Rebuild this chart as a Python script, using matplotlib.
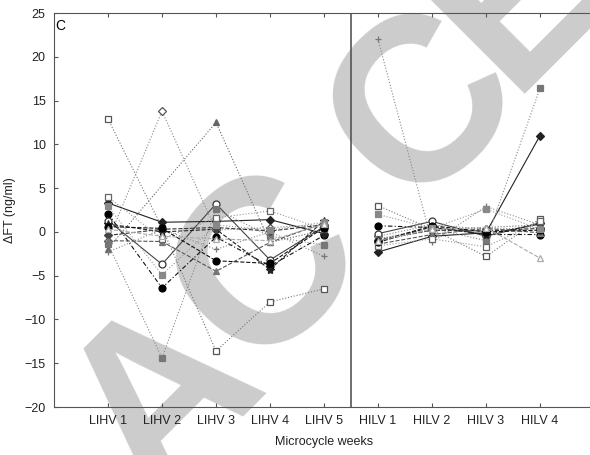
"""
Delta free testosterone per microcycle week (panel C), spaghetti plot.
"""
import numpy as np
import matplotlib
matplotlib.use('Agg')
import matplotlib.pyplot as plt

plt.rcParams['font.family'] = ['Liberation Sans', 'DejaVu Sans']

weeks_lihv = ['LIHV 1', 'LIHV 2', 'LIHV 3', 'LIHV 4', 'LIHV 5']
weeks_hilv = ['HILV 1', 'HILV 2', 'HILV 3', 'HILV 4']
nan = np.nan

# one row per subject: LIHV 1-5 values, then HILV 1-4 values (ng/ml)
lihv_values = [
    [12.9, 0.5, -13.6, -8.0, -6.5],
    [-1.0, 13.8, 0.2, 0.5, 0.8],
    [-1.9, nan, 12.5, -1.2, 0.2],
    [2.1, -6.4, -0.6, -3.9, -0.4],
    [1.3, -3.7, 3.2, -3.2, 0.6],
    [3.3, 1.1, 1.2, 1.4, -0.2],
    [-1.4, -14.4, 2.6, -0.5, -1.5],
    [-2.3, 0.3, -2.0, 0.0, -2.8],
    [0.9, 0.0, 0.3, -4.3, 1.3],
    [-0.4, 0.3, 0.5, 0.1, 0.8],
    [-1.0, -1.1, -4.5, -1.2, 1.0],
    [4.0, -0.8, 1.6, 2.4, 0.3],
    [0.6, 0.4, -3.3, -3.6, 0.5],
    [2.9, -4.9, 0.8, 0.2, 1.1],
    [0.3, -0.5, -0.8, -1.0, 0.9],
]
hilv_values = [
    [3.0, 0.3, -2.8, 1.5],
    [-0.5, 0.8, 0.3, 0.5],
    [-1.0, 0.2, 0.5, 0.8],
    [0.7, 0.5, -0.3, -0.3],
    [-0.2, 1.2, -0.5, 1.0],
    [-2.3, -0.5, -0.1, 11.0],
    [-0.8, 0.4, -1.0, 16.4],
    [22.0, -1.2, 2.9, 0.8],
    [-1.2, 0.6, -0.3, 0.9],
    [-0.9, 0.2, 0.1, 0.4],
    [-1.4, -0.3, 0.4, -0.1],
    [-1.6, -0.8, -1.7, 1.2],
    [-1.1, 0.7, 0.0, 0.2],
    [2.0, 0.4, 2.6, 0.3],
    [-1.0, 0.3, 0.5, -3.0],
]

# marker, face, edge, line style, line colour
styles = [
    ('s', 'white', '#555555', ':', '#777777'),
    ('D', 'white', '#555555', ':', '#888888'),
    ('^', '#666666', '#666666', ':', '#666666'),
    ('o', 'black', 'black', (0, (4, 2, 1, 2)), '#111111'),
    ('o', 'white', '#333333', '-', '#444444'),
    ('D', '#222222', '#222222', '-', '#222222'),
    ('s', '#777777', '#777777', ':', '#888888'),
    ('+', '#777777', '#777777', ':', '#888888'),
    ('*', '#222222', '#222222', '--', '#222222'),
    ('D', '#444444', '#444444', '--', '#333333'),
    ('^', '#777777', '#777777', '--', '#555555'),
    ('s', 'white', '#666666', ':', '#999999'),
    ('o', 'black', 'black', '--', '#111111'),
    ('s', '#888888', '#888888', ':', '#999999'),
    ('^', 'white', '#aaaaaa', '--', '#aaaaaa'),
]

W, H = 590, 455
fig = plt.figure(figsize=(W / 100, H / 100), dpi=100)

# ACCEPTED watermark behind the plot, one letter at a time (pixel centres)
wm_size = 168
wm_lift = 0.36 * wm_size * 100 / 72 * 0.707
wm_centres = [(150, 385), (253, 255), (410, 93), (505, -20),
              (645, -160), (785, -300), (925, -440), (1065, -580)]
for ch, (cx, cy) in zip('ACCEPTED', wm_centres):
    fig.text((cx + wm_lift) / W, 1 - (cy + wm_lift) / H, ch, rotation=45,
             rotation_mode='anchor', fontsize=wm_size, fontweight='bold',
             color='#cccccc', ha='center', va='baseline', zorder=-5)

ax = fig.add_axes([54 / W, 48 / H, 540 / W, 394 / H])
ax.patch.set_alpha(0)

x_lihv = np.arange(1, 6)
x_hilv = np.arange(6, 10)
for lv, hv, st in zip(lihv_values, hilv_values, styles):
    m, fc, ec, ls, lc = st
    ms = 4 if m == 'D' else 5
    if m == '*':
        ms = 6
    for xs, vals in ((x_lihv, lv), (x_hilv, hv)):
        vals = np.array(vals, dtype=float)
        ok = ~np.isnan(vals)
        ax.plot(xs[ok], vals[ok], linestyle=ls, color=lc, linewidth=0.8,
                marker=m, markersize=ms, markerfacecolor=fc,
                markeredgecolor=ec, markeredgewidth=0.9)

ax.axvline(5.5, color='#555555', linewidth=1.2)

ax.set_xlim(0, 10)
ax.set_ylim(-20, 25)
ax.set_xticks(range(1, 10))
ax.set_xticklabels(weeks_lihv + weeks_hilv)
ax.set_yticks(range(-20, 26, 5))
ax.tick_params(direction='in', top=True, length=3, color='#555555',
               labelsize=9, labelcolor='#222222', pad=6)
for sp in ax.spines.values():
    sp.set_color('#555555')
ax.spines['right'].set_visible(False)

ax.set_ylabel('ΔFT (ng/ml)', fontsize=9, color='#222222', labelpad=6)
ax.set_xlabel('Microcycle weeks', fontsize=9, color='#222222', labelpad=6)
ax.text(0.03, 24.3, 'C', fontsize=10, ha='left', va='top')

fig.savefig('out.png', dpi=100, facecolor='white')
